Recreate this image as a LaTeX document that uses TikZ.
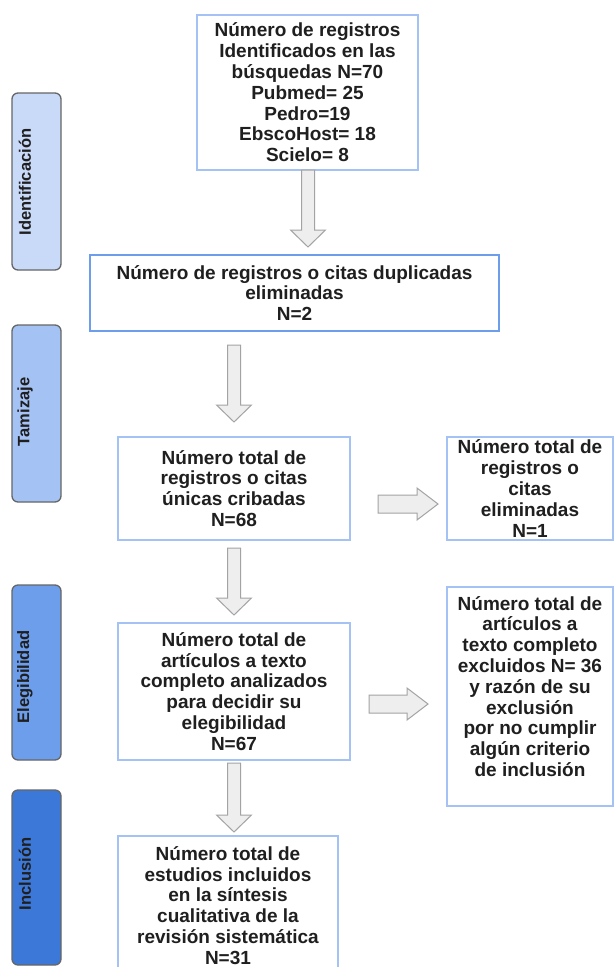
\documentclass[tikz,border=0pt]{standalone}
\usepackage{fontspec}
\setmainfont{Liberation Sans}
\usetikzlibrary{calc}
\definecolor{bxline}{HTML}{A4C2F4}
\definecolor{bxlinedark}{HTML}{6D9EEB}
\definecolor{stA}{HTML}{C9DAF8}
\definecolor{stB}{HTML}{A4C2F4}
\definecolor{stC}{HTML}{6D9EEB}
\definecolor{stD}{HTML}{3C78D8}
\definecolor{arrfill}{HTML}{EEEEEE}
\definecolor{arrline}{HTML}{A3A3A3}
\definecolor{txt}{HTML}{1F1F1F}
\definecolor{stline}{HTML}{666666}
\newcommand\blockdown[2]{%
  \draw[blockarrow] let \p1=(#1), \p2=(#2) in
    (\x1-6.5pt,\y1) -- (\x1+6.5pt,\y1) -- (\x1+6.5pt,\y2+17pt) -- (\x1+17.5pt,\y2+17pt)
    -- (\x1,\y2) -- (\x1-17.5pt,\y2+17pt) -- (\x1-6.5pt,\y2+17pt) -- cycle;}
\newcommand\blockright[2]{%
  \draw[blockarrow] let \p1=(#1), \p2=(#2) in
    (\x1,\y1+9pt) -- (\x2-21pt,\y1+9pt) -- (\x2-21pt,\y1+16pt) -- (\x2,\y1)
    -- (\x2-21pt,\y1-16pt) -- (\x2-21pt,\y1-9pt) -- (\x1,\y1-9pt) -- cycle;}
\tikzset{
  box/.style={draw=bxline, line width=1.5pt, fill=white, inner sep=0pt, align=center,
    text=txt, font=\bfseries\fontsize{19}{20.8}\selectfont},
  boxtext/.style={inner sep=0pt, align=center, text=txt, font=\bfseries\fontsize{19}{20.8}\selectfont},
  stage/.style={draw=stline, line width=1.3pt, rounded corners=6pt, inner sep=0pt, minimum width=49pt},
  stagelabel/.style={rotate=90, text=txt, font=\bfseries\fontsize{16.5}{19}\selectfont, inner sep=0pt},
  blockarrow/.style={draw=arrline, fill=arrfill, line width=1pt, line join=miter}
}
\begin{document}
\begin{tikzpicture}[x=1pt, y=-1pt]
\useasboundingbox[fill=white] (0,0) rectangle (616,967);

% stage boxes
\node[stage, fill=stA, minimum height=177pt] (s1) at (36.5,181.5) {};
\node[stage, fill=stB, minimum height=177pt] (s2) at (36.5,413.5) {};
\node[stage, fill=stC, minimum height=175pt] (s3) at (36.5,672.5) {};
\node[stage, fill=stD, minimum height=175pt] (s4) at (36.5,877.5) {};
\node[stagelabel] (l1) at (25,182) {Identificación};
\node[stagelabel] (l2) at (25,412) {Tamizaje};
\node[stagelabel] (l3) at (25,677) {Elegibilidad};
\node[stagelabel] (l4) at (25,874) {Inclusión};

% flow boxes
\node[box, minimum width=221pt, minimum height=155pt] (b1) at (307.5,92.5)
  {Número de registros\\Identificados en las\\búsquedas N=70\\Pubmed= 25\\Pedro=19\\EbscoHost= 18\\Scielo= 8};
\node[box, draw=bxlinedark, line width=2pt, minimum width=409pt, minimum height=76pt] (b2) at (294.5,293)
  {Número de registros o citas duplicadas\\eliminadas\\N=2};
\node[box, minimum width=232pt, minimum height=103pt] (b3) at (234,488.5)
  {Número total de\\registros o citas\\únicas cribadas\\N=68};
\node[box, minimum width=166pt, minimum height=103pt] (b4) at (530,488.5)
  {Número total de\\registros o\\citas\\eliminadas\\N=1};
\node[box, minimum width=232pt, minimum height=137pt] (b5) at (234,691.5)
  {Número total de\\artículos a texto\\completo analizados\\para decidir su\\elegibilidad\\N=67};
\node[box, minimum width=166pt, minimum height=219pt] (b6) at (530,696.5) {};
\node[boxtext] (b6t) at (530,686.5)
  {Número total de\\artículos a\\texto completo\\excluidos N= 36\\y razón de su\\exclusión\\por no cumplir\\algún criterio\\de inclusión};
\node[box, minimum width=220pt, minimum height=139pt] (b7) at (228,905.5)
  {Número total de\\estudios incluidos\\en la síntesis\\cualitativa de la\\revisión sistemática\\N=31};

% arrow end points
\coordinate (a1s) at (308,170);
\coordinate (a1e) at (308,247);
\coordinate (a2s) at (234,345);
\coordinate (a2e) at (234,422);
\coordinate (a3s) at (234,548);
\coordinate (a3e) at (234,615);
\coordinate (a4s) at (234,763);
\coordinate (a4e) at (234,832);
\coordinate (r1s) at (378,504);
\coordinate (r1e) at (438,504);
\coordinate (r2s) at (369,704);
\coordinate (r2e) at (428,704);

\blockdown{a1s}{a1e}
\blockdown{a2s}{a2e}
\blockdown{a3s}{a3e}
\blockdown{a4s}{a4e}
\blockright{r1s}{r1e}
\blockright{r2s}{r2e}
\end{tikzpicture}
\end{document}
